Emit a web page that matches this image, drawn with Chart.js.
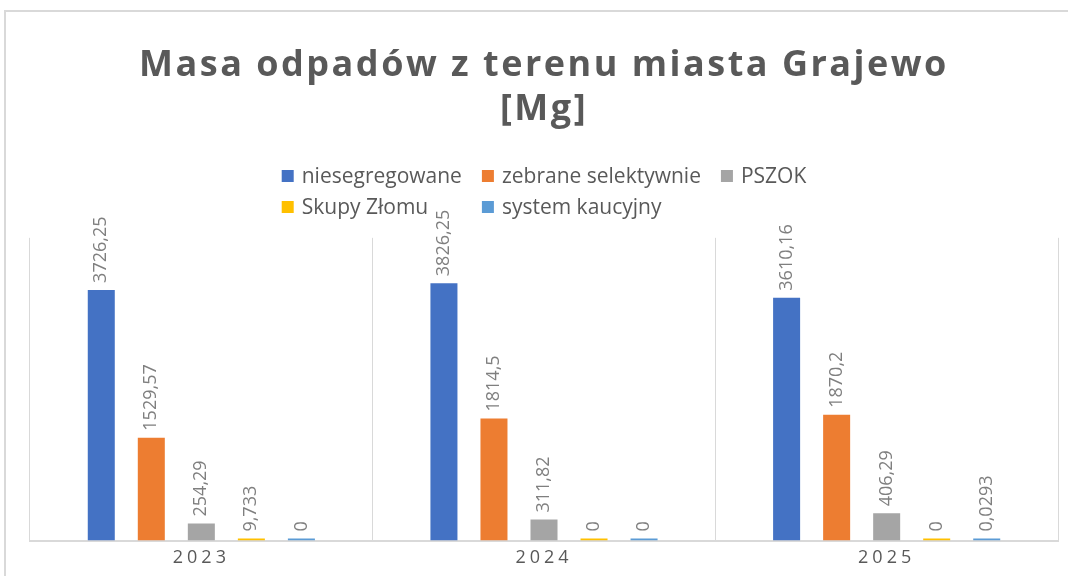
<!DOCTYPE html>
<html lang="pl">
<head>
<meta charset="UTF-8">
<title>Masa odpadów - Grajewo</title>
<script src="https://cdn.jsdelivr.net/npm/chart.js"></script>
<style>
    html, body { margin: 0; padding: 0; background: #fff; }
    /* light frame round the whole chart, like the Excel chart border */
    .frame { position: absolute; left: 4px; top: 10px; width: 1100px; height: 700px; border: 2px solid #d9d9d9; }
    .chart-box { position: absolute; left: 0; top: 0; }
</style>
</head>
<body>
<div class="frame"></div>
<div class="chart-box"><canvas id="wasteChart" width="1068" height="576"></canvas></div>

<script>
    // data
    const years = ['2023', '2024', '2025'];
    const seriesNames = ['niesegregowane', 'zebrane selektywnie', 'PSZOK', 'Skupy Złomu', 'system kaucyjny'];
    const niesegregowane = [3726.25, 3826.25, 3610.16];
    const zebraneSelektywnie = [1529.57, 1814.5, 1870.2];
    const pszok = [254.29, 311.82, 406.29];
    const skupyZlomu = [9.733, 0, 0];
    const systemKaucyjny = [0, 0, 0.0293];
    const seriesColors = ['#4472C4', '#ED7D31', '#A5A5A5', '#FFC000', '#5B9BD5'];
    const yMax = 4500;

    const seriesValues = [niesegregowane, zebraneSelektywnie, pszok, skupyZlomu, systemKaucyjny];

    // polish decimal comma
    function fmt(v) {
        return String(v).replace('.', ',');
    }

    // Chart.js has no letter spacing option, so wrap the draw call of a box
    function wrapSpacing(obj, method, spacing) {
        if (!obj || obj['_spaced_' + method]) return;
        const orig = obj[method];
        obj[method] = function (...args) {
            const ctx = this.ctx;
            ctx.save();
            ctx.letterSpacing = spacing;
            orig.apply(this, args);
            ctx.restore();
        };
        obj['_spaced_' + method] = true;
    }

    const spacingPlugin = {
        id: 'spacing',
        beforeDraw(chart) {
            wrapSpacing(chart.titleBlock, 'draw', '2.5px');
            wrapSpacing(chart.scales.x, 'drawLabels', '4px');
        }
    };

    // rotated value labels above each bar
    const valueLabels = {
        id: 'valueLabels',
        afterDatasetsDraw(chart) {
            const ctx = chart.ctx;
            ctx.save();
            ctx.font = '18px "Open Sans"';
            ctx.fillStyle = '#7f7f7f';
            ctx.textAlign = 'left';
            ctx.textBaseline = 'middle';
            chart.data.datasets.forEach((ds, i) => {
                const meta = chart.getDatasetMeta(i);
                meta.data.forEach((bar, j) => {
                    ctx.save();
                    ctx.translate(bar.x, bar.y - 7);
                    ctx.rotate(-Math.PI / 2);
                    ctx.fillText(fmt(ds.data[j]), 0, 0);
                    ctx.restore();
                });
            });
            ctx.restore();
        }
    };

    // Excel style legend: 3 per row, second row lined up with the first
    const excelLegend = {
        id: 'excelLegend',
        afterDraw(chart) {
            const ctx = chart.ctx;
            const sets = chart.data.datasets;
            const perRow = 3, box = 12, gapText = 8, gapItem = 20, rowH = 31, firstRowY = 176;
            ctx.save();
            ctx.font = '21px "Open Sans"';
            const widths = sets.map(ds => box + gapText + ctx.measureText(ds.label).width);
            const colW = [];
            widths.forEach((w, i) => {
                const c = i % perRow;
                colW[c] = Math.max(colW[c] || 0, w);
            });
            const total = colW.reduce((a, b) => a + b, 0) + gapItem * (colW.length - 1);
            const center = (chart.chartArea.left + chart.chartArea.right) / 2;
            const colX = [];
            let x = center - total / 2;
            colW.forEach((w, c) => { colX[c] = x; x += w + gapItem; });
            ctx.textAlign = 'left';
            ctx.textBaseline = 'middle';
            sets.forEach((ds, i) => {
                const cx = colX[i % perRow];
                const cy = firstRowY + Math.floor(i / perRow) * rowH;
                ctx.fillStyle = ds.backgroundColor;
                ctx.fillRect(cx, cy - box / 2, box, box);
                ctx.fillStyle = '#595959';
                ctx.fillText(ds.label, cx + box + gapText, cy + 1);
            });
            ctx.restore();
        }
    };

    const ctx = document.getElementById('wasteChart').getContext('2d');
    const wasteChart = new Chart(ctx, {
        type: 'bar',
        data: {
            labels: years,
            datasets: seriesNames.map((name, i) => ({
                label: name,
                data: seriesValues[i],
                backgroundColor: seriesColors[i],
                borderWidth: 0,
                minBarLength: 2,
                barPercentage: 0.54,
                categoryPercentage: 0.73
            }))
        },
        options: {
            responsive: false,
            animation: false,
            layout: {
                padding: { left: 30, right: 10, top: 0, bottom: 1 }
            },
            plugins: {
                legend: { display: false },
                tooltip: { enabled: false },
                title: {
                    display: true,
                    text: ['Masa odpadów z terenu miasta Grajewo', '[Mg]'],
                    color: '#595959',
                    font: { family: '"Open Sans"', size: 36, weight: 'bold', lineHeight: 1.22 },
                    padding: { top: 44, bottom: 106 }
                }
            },
            scales: {
                x: {
                    grid: { color: '#d9d9d9', lineWidth: 1, drawTicks: false, offset: true },
                    border: { color: '#d9d9d9', width: 2 },
                    ticks: {
                        color: '#595959',
                        padding: 10,
                        font: { family: '"Open Sans"', size: 18, lineHeight: 0.8 }
                    }
                },
                y: {
                    display: false,
                    min: 0,
                    max: yMax
                }
            }
        },
        plugins: [spacingPlugin, valueLabels, excelLegend]
    });
</script>
</body>
</html>
